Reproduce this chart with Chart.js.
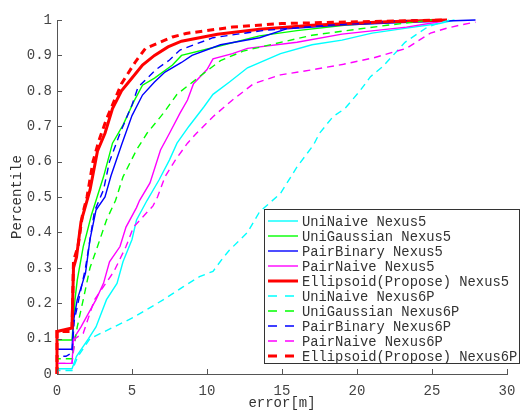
<!DOCTYPE html>
<html>
<head>
<meta charset="utf-8">
<script src="https://cdn.jsdelivr.net/npm/chart.js@4.4.1/dist/chart.umd.min.js"></script>
<style>
  html, body { margin: 0; padding: 0; background: #fff; }
  #wrap { width: 525px; height: 411px; }
</style>
</head>
<body>
<div id="wrap"><canvas id="cdf" width="525" height="411"></canvas></div>
<script>
// error [m] / percentile pairs
const uniNaiveN5X = [0, 0, 1.0, 1.3, 2.1, 2.6, 3.3, 4.0, 4.4, 5.0, 5.3, 6.0, 6.8, 7.5, 8.0, 8.8, 9.8, 10.4, 11.5, 12.7, 14.9, 17.0, 19.0, 21.0, 23.3, 25.5, 26.5];
const uniNaiveN5Y = [0, 0.015, 0.015, 0.05, 0.1, 0.133, 0.21, 0.256, 0.317, 0.38, 0.435, 0.49, 0.548, 0.605, 0.652, 0.7, 0.755, 0.79, 0.825, 0.865, 0.905, 0.93, 0.943, 0.963, 0.977, 0.99, 1.0];

const uniGaussN5X = [0, 0, 1.0, 1.2, 1.35, 1.75, 2.0, 2.3, 2.6, 3.1, 3.7, 4.4, 5.1, 5.7, 6.5, 7.7, 8.3, 10.7, 13.5, 16.0, 19.3, 22.0, 25.0];
const uniGaussN5Y = [0, 0.096, 0.096, 0.21, 0.265, 0.36, 0.40, 0.45, 0.49, 0.557, 0.652, 0.703, 0.768, 0.816, 0.836, 0.873, 0.90, 0.925, 0.955, 0.97, 0.986, 0.993, 1.0];

const pairBinN5X = [0, 0, 1.0, 1.1, 1.35, 1.9, 2.2, 2.6, 3.2, 3.6, 4.3, 5.0, 5.7, 6.5, 7.2, 8.3, 9.0, 10.9, 13.5, 15.3, 19.0, 23.0, 27.9];
const pairBinN5Y = [0, 0.07, 0.07, 0.15, 0.21, 0.285, 0.38, 0.463, 0.5, 0.56, 0.647, 0.73, 0.788, 0.825, 0.853, 0.88, 0.9, 0.93, 0.95, 0.975, 0.986, 0.993, 1.0];

const pairNaiveN5X = [0, 0, 1.0, 1.1, 1.6, 2.6, 3.1, 3.5, 4.2, 4.6, 5.3, 5.5, 6.2, 6.9, 7.5, 8.2, 8.7, 9.1, 10.0, 10.4, 11.7, 12.7, 16.0, 19.0, 23.3, 25.5, 26.0];
const pairNaiveN5Y = [0, 0.03, 0.03, 0.1, 0.133, 0.21, 0.256, 0.317, 0.36, 0.415, 0.47, 0.49, 0.54, 0.633, 0.68, 0.737, 0.774, 0.82, 0.86, 0.89, 0.905, 0.92, 0.937, 0.96, 0.98, 0.995, 1.0];

const ellipN5X = [0, 0, 0.5, 1.0, 1.1, 1.3, 1.6, 2.0, 2.2, 2.7, 3.2, 3.7, 4.3, 5.0, 5.7, 6.5, 7.4, 8.3, 10.7, 13.5, 17.0, 22.0, 26.0];
const ellipN5Y = [0, 0.12, 0.125, 0.13, 0.3, 0.33, 0.43, 0.49, 0.52, 0.63, 0.68, 0.75, 0.8, 0.836, 0.873, 0.9, 0.924, 0.94, 0.96, 0.974, 0.985, 0.995, 1.0];

const uniNaiveN6X = [0, 0, 1.0, 1.4, 2.2, 3.8, 5.1, 7.1, 8.4, 9.5, 10.4, 11.1, 11.5, 12.7, 13.5, 14.9, 16.0, 17.1, 17.5, 18.4, 19.2, 20.2, 20.9, 21.7, 22.4, 23.2, 24.2, 24.7, 25.7, 26.2];
const uniNaiveN6Y = [0, 0.01, 0.01, 0.05, 0.1, 0.133, 0.16, 0.21, 0.246, 0.275, 0.29, 0.33, 0.35, 0.4, 0.458, 0.51, 0.585, 0.647, 0.68, 0.727, 0.75, 0.8, 0.84, 0.868, 0.9, 0.937, 0.966, 0.98, 0.994, 1.0];

const uniGaussN6X = [0, 0, 1.0, 1.35, 1.75, 2.2, 2.7, 3.3, 3.9, 4.4, 5.3, 6.0, 7.1, 8.0, 8.9, 9.8, 10.9, 12.4, 13.7, 17.0, 19.3, 22.0, 25.0];
const uniGaussN6Y = [0, 0.043, 0.043, 0.133, 0.21, 0.30, 0.36, 0.435, 0.49, 0.557, 0.633, 0.68, 0.737, 0.79, 0.82, 0.85, 0.885, 0.912, 0.925, 0.957, 0.97, 0.985, 1.0];

const pairBinN6X = [0, 0, 0.6, 1.0, 1.15, 1.4, 1.9, 2.2, 2.5, 3.1, 3.5, 4.2, 5.0, 5.4, 6.6, 7.5, 8.2, 10.4, 13.7, 18.0, 22.0, 24.0];
const pairBinN6Y = [0, 0.05, 0.05, 0.06, 0.15, 0.2, 0.3, 0.38, 0.46, 0.52, 0.6, 0.68, 0.76, 0.81, 0.86, 0.887, 0.915, 0.95, 0.97, 0.985, 0.995, 1.0];

const pairNaiveN6X = [0, 0, 1.0, 1.2, 1.75, 2.5, 3.8, 4.6, 5.1, 6.4, 6.7, 7.2, 7.9, 8.7, 9.3, 10.4, 11.7, 13.1, 14.9, 17.1, 19.1, 21.1, 23.3, 24.9, 26.0, 26.9, 27.9];
const pairNaiveN6Y = [0, 0.03, 0.03, 0.1, 0.115, 0.21, 0.29, 0.36, 0.415, 0.475, 0.5, 0.557, 0.605, 0.652, 0.68, 0.727, 0.774, 0.82, 0.845, 0.86, 0.875, 0.893, 0.92, 0.963, 0.977, 0.986, 0.994];

const ellipN6X = [0, 0, 1.0, 1.1, 1.4, 1.7, 2.0, 2.4, 2.8, 3.3, 3.8, 4.3, 5.2, 5.9, 7.7, 8.6, 11.7, 15.0, 20.0, 26.0];
const ellipN6Y = [0, 0.12, 0.12, 0.32, 0.36, 0.45, 0.5, 0.6, 0.66, 0.72, 0.77, 0.82, 0.88, 0.92, 0.952, 0.962, 0.98, 0.99, 0.995, 1.0];

const seriesNames = [
  'UniNaive Nexus5', 'UniGaussian Nexus5', 'PairBinary Nexus5', 'PairNaive Nexus5', 'Ellipsoid(Propose) Nexus5',
  'UniNaive Nexus6P', 'UniGaussian Nexus6P', 'PairBinary Nexus6P', 'PairNaive Nexus6P', 'Ellipsoid(Propose) Nexus6P'
];
const seriesX = [uniNaiveN5X, uniGaussN5X, pairBinN5X, pairNaiveN5X, ellipN5X, uniNaiveN6X, uniGaussN6X, pairBinN6X, pairNaiveN6X, ellipN6X];
const seriesY = [uniNaiveN5Y, uniGaussN5Y, pairBinN5Y, pairNaiveN5Y, ellipN5Y, uniNaiveN6Y, uniGaussN6Y, pairBinN6Y, pairNaiveN6Y, ellipN6Y];
const seriesColors = ['#00ffff', '#00ff00', '#0000ff', '#ff00ff', '#ff0000', '#00ffff', '#00ff00', '#0000ff', '#ff00ff', '#ff0000'];

const xTicks = [0, 5, 10, 15, 20, 25, 30];
const yTicks = [0, 0.1, 0.2, 0.3, 0.4, 0.5, 0.6, 0.7, 0.8, 0.9, 1];

const FONT = 'Liberation Mono';
const AXIS_COLOR = '#555';
const DASH = [7, 5];

const datasets = seriesNames.map((name, i) => ({
  label: name,
  data: seriesX[i].map((x, j) => ({ x: x, y: seriesY[i][j] })),
  borderColor: seriesColors[i],
  backgroundColor: seriesColors[i],
  borderWidth: name.startsWith('Ellipsoid') ? 3 : 1.4,
  borderDash: i >= 5 ? DASH : [],
  pointRadius: 0,
  tension: 0,
  fill: false,
  clip: 4,
  order: 10 - i   // later series drawn on top, like matlab
}));

// inward ticks + legend inside the axes
const matlabBits = {
  id: 'matlabBits',
  afterDatasetsDraw(chart) {
    const ctx = chart.ctx;
    const xs = chart.scales.x, ys = chart.scales.y;
    const area = chart.chartArea;
    ctx.save();
    ctx.strokeStyle = AXIS_COLOR;
    ctx.lineWidth = 1;
    ctx.beginPath();
    xTicks.forEach(v => {
      const px = Math.round(xs.getPixelForValue(v)) + 0.5;
      ctx.moveTo(px, area.bottom);
      ctx.lineTo(px, area.bottom - 5);
    });
    yTicks.forEach(v => {
      const py = Math.round(ys.getPixelForValue(v)) + 0.5;
      ctx.moveTo(area.left, py);
      ctx.lineTo(area.left + 5, py);
    });
    ctx.stroke();

    // legend box
    const bx = 264.5, by = 209.5, bw = 255, bh = 154;
    ctx.fillStyle = '#fff';
    ctx.fillRect(bx, by, bw, bh);
    ctx.strokeStyle = '#333';
    ctx.strokeRect(bx, by, bw, bh);
    ctx.font = '13.8px "' + FONT + '"';
    ctx.textBaseline = 'middle';
    ctx.textAlign = 'left';
    chart.data.datasets.forEach((ds, i) => {
      const cy = 221 + i * 15;
      ctx.strokeStyle = ds.borderColor;
      ctx.lineWidth = ds.borderWidth;
      ctx.setLineDash(ds.borderDash.length ? [9, 8] : []);
      ctx.beginPath();
      ctx.moveTo(268, cy);
      ctx.lineTo(298, cy);
      ctx.stroke();
      ctx.setLineDash([]);
      ctx.fillStyle = '#333';
      ctx.fillText(ds.label, 302, cy + 1);
    });
    ctx.restore();
  }
};

new Chart(document.getElementById('cdf'), {
  type: 'line',
  data: { datasets: datasets },
  options: {
    responsive: false,
    animation: false,
    layout: { padding: { top: 20, right: 18, bottom: 0, left: 0 } },
    plugins: { legend: { display: false }, tooltip: { enabled: false } },
    scales: {
      x: {
        type: 'linear',
        min: 0,
        max: 30,
        afterBuildTicks: (scale) => { scale.ticks = xTicks.map(v => ({ value: v })); },
        afterFit: (scale) => { scale.height = 37; },
        grid: { display: false, drawTicks: false },
        border: { display: true, color: AXIS_COLOR, width: 1 },
        ticks: { color: '#444', font: { family: FONT, size: 14 }, padding: 9, maxRotation: 0 },
        title: { display: true, text: 'error[m]', color: '#333', font: { family: FONT, size: 14 }, padding: { top: 0, bottom: -1 } }
      },
      y: {
        type: 'linear',
        min: 0,
        max: 1,
        afterBuildTicks: (scale) => { scale.ticks = yTicks.map(v => ({ value: v })); },
        afterFit: (scale) => { scale.width = 57; },
        grid: { display: false, drawTicks: false },
        border: { display: true, color: AXIS_COLOR, width: 1 },
        ticks: {
          color: '#444',
          font: { family: FONT, size: 14 },
          padding: 5,
          callback: (v) => String(Number(v.toFixed(1)))
        },
        title: { display: true, text: 'Percentile', color: '#333', font: { family: FONT, size: 14 }, padding: { top: 9, bottom: 0 } }
      }
    }
  },
  plugins: [matlabBits]
});
</script>
</body>
</html>
